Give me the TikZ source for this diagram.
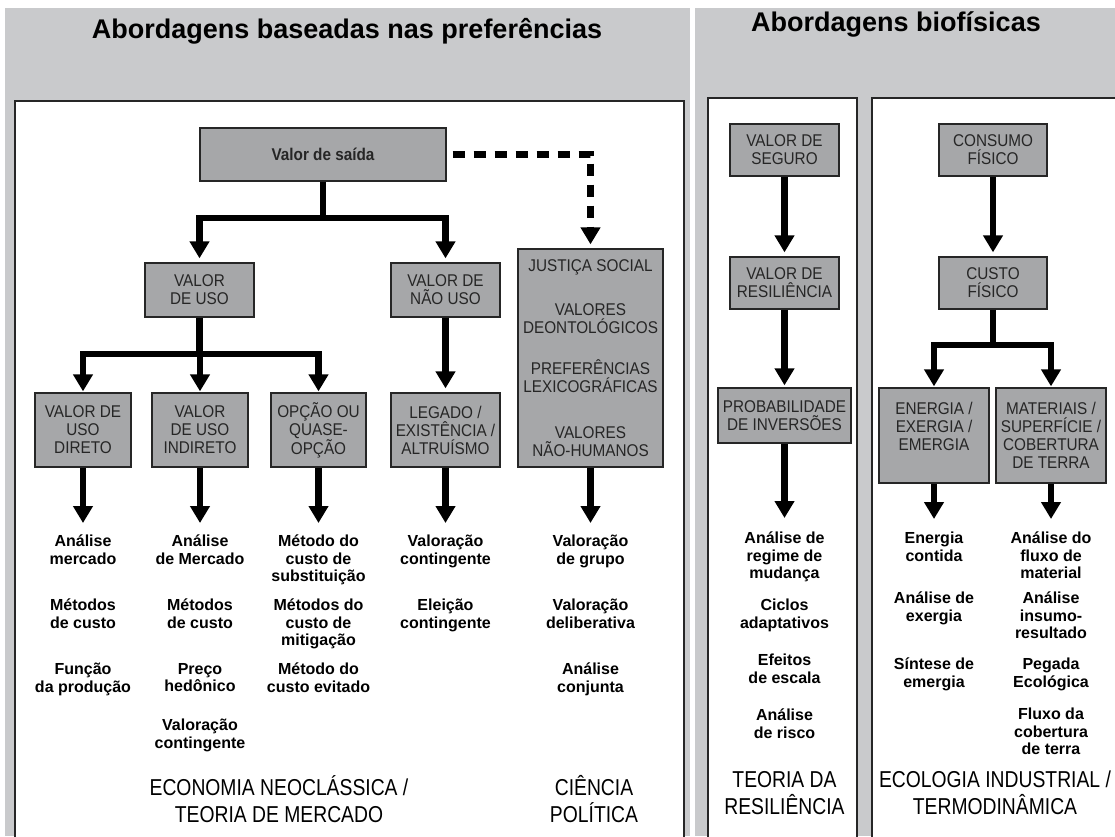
\documentclass[tikz,border=0pt]{standalone}
\usepackage{fontspec}
\setmainfont{Liberation Sans}
\newfontfamily\narrowfont[FakeStretch=0.84]{Liberation Sans}
\newfontfamily\boxfont[FakeStretch=0.9]{Liberation Sans}
\usetikzlibrary{arrows.meta,positioning}
\definecolor{panelgray}{HTML}{C9CACC}
\definecolor{boxgray}{HTML}{A6A7A9}

\begin{document}
\begin{tikzpicture}[x=1pt,y=-1pt,
        valbox/.style={draw=black!85,line width=1.3pt,fill=boxgray,inner sep=1pt,
            align=center,text=black!85,font=\boxfont\fontsize{17}{18}\selectfont},
        item/.style={anchor=north,inner sep=0pt,align=center,
            font=\bfseries\fontsize{16}{17.5}\selectfont,
            execute at begin node={\rule{0pt}{15pt}}},
        field/.style={anchor=north,inner sep=0pt,align=center,
            font=\narrowfont\fontsize{23}{27}\selectfont,
            execute at begin node={\rule{0pt}{22pt}}},
        heading/.style={anchor=base,inner sep=0pt,font=\bfseries\fontsize{27}{30}\selectfont},
        bar/.style={line width=6.5pt},
        arr/.style={line width=6.5pt,-{Triangle[width=19pt,length=17pt]}},
        dasharr/.style={arr,dash pattern=on 12pt off 9pt}]

    \useasboundingbox (0,0) rectangle (1115,836);
    % panels
    \fill[white] (0,0) rectangle (1115,836);
    \fill[panelgray] (5,8) rectangle (690,836);
    \fill[panelgray] (695,8) rectangle (1115,836);
    \filldraw[fill=white,draw=black!85,line width=1.3pt] (15,101) rectangle (684,845);
    \filldraw[fill=white,draw=black!85,line width=1.3pt] (708,98) rectangle (857,845);
    \filldraw[fill=white,draw=black!85,line width=1.3pt] (872,98) rectangle (1125,845);

    \node[heading] (prefs) at (347,38) {Abordagens baseadas nas preferências};
    \node[heading] (biofis) at (896,31) {Abordagens biofísicas};

    \begin{scope}[every node/.style={valbox}]
        \node[minimum width=246pt,minimum height=53pt] (saida) at (323,154.5) {\bfseries Valor de saída};
        \node[minimum width=109pt,minimum height=54pt] (uso) at (199.5,290) {VALOR\\DE USO};
        \node[minimum width=109pt,minimum height=54pt] (naouso) at (445.5,290) {VALOR DE\\NÃO USO};
        \node[minimum width=145pt,minimum height=218pt] (justica) at (590.5,358)
            {JUSTIÇA SOCIAL\\[26pt]VALORES\\DEONTOLÓGICOS\\[23pt]PREFERÊNCIAS\\LEXICOGRÁFICAS\\[28pt]VALORES\\NÃO-HUMANOS};
        \node[minimum width=96pt,minimum height=74pt] (direto) at (83,430) {VALOR DE\\USO\\DIRETO};
        \node[minimum width=96pt,minimum height=74pt] (indireto) at (200,430) {VALOR\\DE USO\\INDIRETO};
        \node[minimum width=95pt,minimum height=74pt] (opcao) at (318.5,430) {OPÇÃO OU\\QUASE-\\OPÇÃO};
        \node[minimum width=109pt,minimum height=74pt] (legado) at (445.5,430) {LEGADO /\\EXISTÊNCIA /\\ALTRUÍSMO};

        \node[minimum width=109pt,minimum height=52pt] (seguro) at (784.5,150) {VALOR DE\\SEGURO};
        \node[minimum width=109pt,minimum height=52pt] (resil) at (784.5,283) {VALOR DE\\RESILIÊNCIA};
        \node[minimum width=133pt,minimum height=55pt] (prob) at (784.5,415.5) {PROBABILIDADE\\DE INVERSÕES};

        \node[minimum width=108pt,minimum height=52pt] (consumo) at (993,150) {CONSUMO\\FÍSICO};
        \node[minimum width=108pt,minimum height=52pt] (custo) at (993,283) {CUSTO\\FÍSICO};
        \node[minimum width=110pt,minimum height=95pt] (energia) at (934,435.5) {ENERGIA /\\EXERGIA /\\EMERGIA\\\mbox{}};
        \node[minimum width=110pt,minimum height=95pt] (materiais) at (1051,435.5) {MATERIAIS /\\SUPERFÍCIE /\\COBERTURA\\DE TERRA};
    \end{scope}

    \begin{scope}[every node/.style={item}]
        \node (d1) at (83,535) {Análise\\mercado};
        \node (d2) at (83,599) {Métodos\\de custo};
        \node (d3) at (83,663) {Função\\da produção};
        \node (i1) at (200,535) {Análise\\de Mercado};
        \node (i2) at (200,599) {Métodos\\de custo};
        \node (i3) at (200,663) {Preço\\hedônico};
        \node (i4) at (200,719) {Valoração\\contingente};
        \node (o1) at (318.5,535) {Método do\\custo de\\substituição};
        \node (o2) at (318.5,599) {Métodos do\\custo de\\mitigação};
        \node (o3) at (318.5,663) {Método do\\custo evitado};
        \node (l1) at (445.5,535) {Valoração\\contingente};
        \node (l2) at (445.5,599) {Eleição\\contingente};
        \node (p1) at (590.5,535) {Valoração\\de grupo};
        \node (p2) at (590.5,599) {Valoração\\deliberativa};
        \node (p3) at (590.5,663) {Análise\\conjunta};

        \node (r1) at (784.5,532) {Análise de\\regime de\\mudança};
        \node (r2) at (784.5,599) {Ciclos\\adaptativos};
        \node (r3) at (784.5,654) {Efeitos\\de escala};
        \node (r4) at (784.5,709) {Análise\\de risco};

        \node (e1) at (934,532) {Energia\\contida};
        \node (e2) at (934,592) {Análise de\\exergia};
        \node (e3) at (934,658) {Síntese de\\emergia};
        \node (m1) at (1051,532) {Análise do\\fluxo de\\material};
        \node (m2) at (1051,592) {Análise\\insumo-\\resultado};
        \node (m3) at (1051,658) {Pegada\\Ecológica};
        \node (m4) at (1051,708) {Fluxo da\\cobertura\\de terra};
    \end{scope}

    \node[field] (econ) at (279,775) {ECONOMIA NEOCLÁSSICA /\\TEORIA DE MERCADO};
    \node[field] (polit) at (594,775) {CIÊNCIA\\POLÍTICA};
    \node[field] (teoria) at (784.5,771) {TEORIA DA\\RESILIÊNCIA};
    \node[field] (ecoind) at (995,771) {ECOLOGIA INDUSTRIAL /\\TERMODINÂMICA};

    % junctions
    \coordinate (s1) at (323,218);
    \coordinate (u1) at (199.5,354);
    \coordinate (c1) at (993,345);

    \draw[bar] (saida) -- (s1);
    \draw[arr,shorten >=4pt] (s1) -| (uso);
    \draw[arr,shorten >=4pt] (s1) -| (naouso);
    \draw[dasharr,shorten <=6pt,shorten >=4pt] (saida) -| (justica);
    \draw[bar] (uso) -- (u1);
    \draw[arr,shorten >=1pt] (u1) -| (direto);
    \draw[arr,shorten >=1pt] (u1) -| (indireto);
    \draw[arr,shorten >=1pt] (u1) -| (opcao);
    \draw[arr,shorten >=4pt] (naouso) -- (legado);
    \draw[arr,shorten >=4pt] (seguro) -- (resil);
    \draw[arr,shorten >=2pt] (resil) -- (prob);
    \draw[arr,shorten >=4pt] (consumo) -- (custo);
    \draw[bar] (custo) -- (c1);
    \draw[arr,shorten >=1pt] (c1) -| (energia);
    \draw[arr,shorten >=1pt] (c1) -| (materiais);

    \draw[arr,shorten >=12pt] (direto) -- (d1);
    \draw[arr,shorten >=12pt] (indireto) -- (i1);
    \draw[arr,shorten >=12pt] (opcao) -- (o1);
    \draw[arr,shorten >=12pt] (legado) -- (l1);
    \draw[arr,shorten >=12pt] (justica) -- (p1);
    \draw[arr,shorten >=14pt] (prob) -- (r1);
    \draw[arr,shorten >=13pt] (energia) -- (e1);
    \draw[arr,shorten >=13pt] (materiais) -- (m1);
\end{tikzpicture}
\end{document}
